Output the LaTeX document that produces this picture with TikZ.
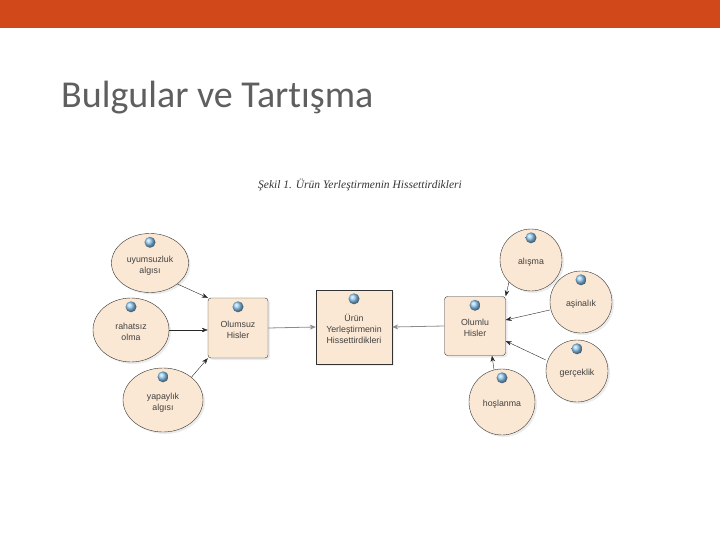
\documentclass[tikz,border=0pt]{standalone}
\usepackage{fontspec}
\setmainfont{Liberation Sans}
\newfontfamily\titlefont[Ligatures=NoCommon]{Carlito}
\newfontfamily\captionfont{Liberation Serif}
\usetikzlibrary{positioning, arrows.meta, shapes.geometric, shadows}
\definecolor{barorange}{RGB}{209,73,27}
\definecolor{titlegray}{RGB}{95,95,95}
\definecolor{peach}{RGB}{251,232,212}
\definecolor{ballblue}{RGB}{140,200,242}

\begin{document}
\begin{tikzpicture}[
    x=1pt, y=-1pt,
    shape base/.style={draw=black!80, thin, fill=peach, drop shadow={opacity=0.15, shadow xshift=2pt, shadow yshift=-2pt},
        align=center, font=\fontsize{8.8}{11}\selectfont, text=black!75, inner sep=1pt},
    oval/.style={shape base, ellipse, minimum width=77pt, minimum height=59pt},
    bubble/.style={shape base, circle, minimum size=62pt},
    softbox/.style={shape base, rectangle, rounded corners=3pt, minimum width=60pt, minimum height=60pt},
    mainbox/.style={shape base, rectangle, minimum width=76pt, minimum height=74pt},
    arrow/.style={-{Stealth[length=6pt, width=4.5pt]}, black!85, thin},
    grayarrow/.style={-{Stealth[length=6pt, width=5pt]}, black!45, thick}
]
    % sayfa ve üst bant
    \useasboundingbox (0,0) rectangle (720,540);
    \fill[barorange] (0,0) rectangle (720,28);
    \node[anchor=base west, font=\titlefont\fontsize{38}{43}\selectfont, text=titlegray, inner sep=0pt] (title) at (61,108) {Bulgular ve Tartışma};
    \node[font=\captionfont\itshape\fontsize{11.5}{13}\selectfont, text=black!80] (caption) at (360,185) {Şekil 1. Ürün Yerleştirmenin Hissettirdikleri};

    % sol taraf: olumsuz hisler
    \node[oval] (uyum) at (150,263) {\\uyumsuzluk\\algısı};
    \node[oval, minimum width=76pt, minimum height=64pt] (rahat) at (131,330) {\\rahatsız\\olma};
    \node[oval, minimum width=80pt, minimum height=64pt] (yapay) at (163,400) {\\yapaylık\\algısı};
    \node[softbox] (olumsuz) at (238,328) {\\Olumsuz\\Hisler};

    % orta kutu
    \node[mainbox] (urun) at (354,327) {\\Ürün\\Yerleştirmenin\\Hissettirdikleri};

    % sağ taraf: olumlu hisler
    \node[softbox, minimum width=61pt, minimum height=59pt] (olumlu) at (475,326) {\\Olumlu\\Hisler};
    \node[bubble] (alisma) at (531,260) {\\alışma};
    \node[bubble] (asina) at (581,302) {\\aşinalık};
    \node[bubble] (gercek) at (577,371) {\\gerçeklik};
    \node[bubble, minimum size=66pt] (hoslan) at (502,402) {\\hoşlanma};

    % mavi küreler
    \foreach \n in {uyum, rahat, yapay, olumsuz, urun, olumlu, alisma, asina, gercek, hoslan}
        \shade[ball color=ballblue] ([yshift=-9pt]\n.north) circle (5.5pt);

    % bağlantılar
    \draw[arrow] (uyum.south east) -- (olumsuz.north west);
    \draw[arrow] (rahat.east) -- (olumsuz.west |- rahat.east);
    \draw[arrow] (yapay.north east) -- (olumsuz.south west);
    \draw[grayarrow] (olumsuz.east) -- (urun.west);
    \draw[grayarrow] (olumlu.west) -- (urun.east);
    \draw[arrow] (alisma.south west) -- (olumlu.north east);
    \draw[arrow] (asina.west |- 0,310) -- (olumlu.east |- 0,320);
    \draw[arrow] (gercek.west |- 0,360) -- (olumlu.east |- 0,341);
    \draw[arrow] (hoslan.north) ++(-8pt,-1pt) -- (olumlu.south -| 492,0);

\end{tikzpicture}
\end{document}
